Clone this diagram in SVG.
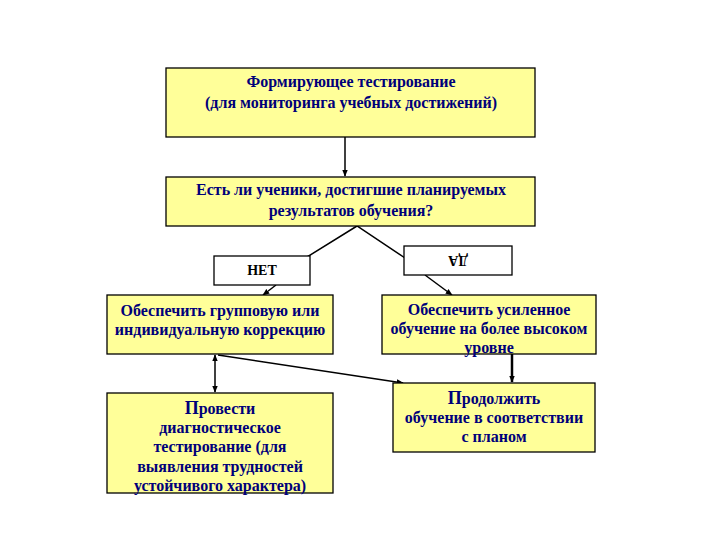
<svg xmlns="http://www.w3.org/2000/svg" width="720" height="540" viewBox="0 0 720 540">
<style>
.box{fill:#FFFF99;stroke:#000;stroke-width:1.3}
.lbl{fill:#fff;stroke:#000;stroke-width:1.3}
.t{font-family:"Liberation Serif","Times New Roman",serif;font-weight:bold;font-size:16px;fill:#00007A;text-anchor:middle}
.k{font-family:"Liberation Serif","Times New Roman",serif;font-weight:bold;font-size:14px;fill:#000;text-anchor:middle}
.c{stroke:#000;stroke-width:1.5;fill:none}
</style>
<defs>
<marker id="ah" viewBox="0 0 10 10" refX="9" refY="5" markerWidth="7" markerHeight="7" orient="auto-start-reverse" markerUnits="userSpaceOnUse">
<path d="M0,1 L10,5 L0,9 z" fill="#000"/>
</marker>
</defs>
<rect width="720" height="540" fill="#fff"/>
<g id="connectors">
<line class="c" x1="345" y1="137" x2="345" y2="176" marker-end="url(#ah)"/>
<polyline class="c" points="307,257 357,226 405,258"/>
<line class="c" x1="276" y1="285" x2="263" y2="295" marker-end="url(#ah)"/>
<line class="c" x1="425" y1="275" x2="452" y2="295" marker-end="url(#ah)"/>
<line x1="512" y1="354" x2="512" y2="382" stroke="#000" stroke-width="2.5" marker-end="url(#ah)"/>
<line class="c" x1="215" y1="355" x2="215" y2="392" marker-start="url(#ah)" marker-end="url(#ah)"/>
<line class="c" x1="218" y1="355" x2="403" y2="383" marker-end="url(#ah)"/>
</g>
<g id="n1">
<rect class="box" x="166" y="68" width="369" height="69"/>
<text class="t" x="351" y="87">Формирующее тестирование</text>
<text class="t" x="351" y="108">(для мониторинга учебных достижений)</text>
</g>
<g id="n2">
<rect class="box" x="166" y="177" width="369" height="49"/>
<text class="t" x="351" y="195">Есть ли ученики, достигшие планируемых</text>
<text class="t" x="351" y="216">результатов обучения?</text>
</g>
<g id="no">
<rect class="lbl" x="214" y="256" width="96" height="29"/>
<text class="k" x="262" y="275">НЕТ</text>
</g>
<g id="yes">
<rect class="lbl" x="404" y="246" width="108" height="29"/>
<text class="k" x="458" y="266" transform="rotate(180 458 261)">ДА</text>
</g>
<g id="n3">
<rect class="box" x="107" y="295" width="226" height="59"/>
<text class="t" x="220" y="316">Обеспечить групповую или</text>
<text class="t" x="220" y="335">индивидуальную коррекцию</text>
</g>
<g id="n4">
<rect class="box" x="382" y="295" width="214" height="59"/>
<text class="t" x="489" y="315">Обеспечить усиленное</text>
<text class="t" x="489" y="334">обучение на более высоком</text>
<text class="t" x="489" y="353">уровне</text>
</g>
<g id="n5">
<rect class="box" x="107" y="393" width="226" height="100"/>
<text class="t" x="220" y="414"><tspan font-size="18">П</tspan>ровести</text>
<text class="t" x="220" y="433">диагностическое</text>
<text class="t" x="220" y="452">тестирование (для</text>
<text class="t" x="220" y="472">выявления трудностей</text>
<text class="t" x="220" y="491">устойчивого характера)</text>
</g>
<g id="n6">
<rect class="box" x="393" y="383" width="202" height="69"/>
<text class="t" x="494" y="404"><tspan font-size="18">П</tspan>родолжить</text>
<text class="t" x="494" y="423">обучение в соответствии</text>
<text class="t" x="494" y="442">с планом</text>
</g>
</svg>
